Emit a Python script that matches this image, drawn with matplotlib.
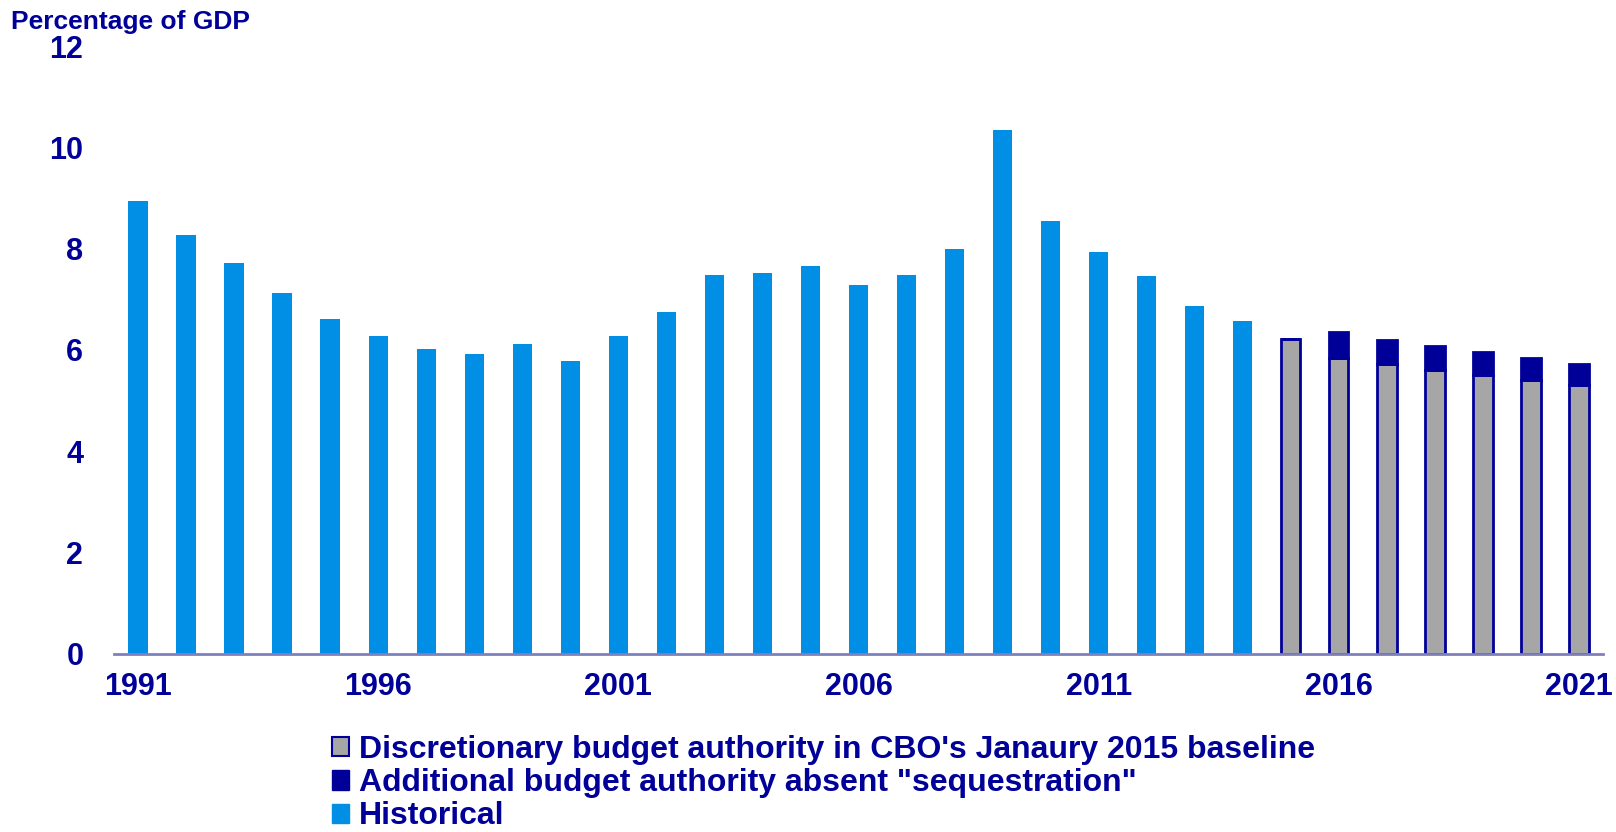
#!/usr/bin/env python3
"""Discretionary budget authority as % of GDP, 1991-2021 (historical + CBO baseline)."""
import numpy as np
import matplotlib
matplotlib.use("Agg")
import matplotlib.pyplot as plt
from matplotlib.patches import Patch

NAVY = "#000099"
SKY = "#008FE5"
GRAY = "#A6A6A6"
AXIS = "#8080C0"

years = list(range(1991, 2022))
historical = [8.94, 8.26, 7.71, 7.12, 6.61, 6.28, 6.01, 5.91, 6.11, 5.77,
              6.28, 6.75, 7.48, 7.51, 7.65, 7.28, 7.48, 8.00, 10.35, 8.55,
              7.93, 7.46, 6.87, 6.56]
baseline_years = list(range(2015, 2022))
baseline = [6.22, 5.84, 5.71, 5.60, 5.50, 5.41, 5.31]
no_sequester = [0.00, 0.51, 0.48, 0.47, 0.46, 0.43, 0.41]
tick_years = [1991, 1996, 2001, 2006, 2011, 2016, 2021]

plt.rcParams["font.family"] = ["Liberation Sans", "DejaVu Sans"]
plt.rcParams["font.weight"] = "bold"


def main():
    fig = plt.figure(figsize=(16.16, 8.32), dpi=100)
    ax = fig.add_axes([0.0705, 0.2145, 0.9215, 0.7302])

    x = np.arange(len(years))
    hx = x[:len(historical)]
    bx = x[len(historical):]
    w = 0.4

    ax.bar(hx, historical, width=w, color=SKY, linewidth=0)
    ax.bar(bx, baseline, width=w, color=GRAY, edgecolor=NAVY, linewidth=2)
    ax.bar(bx, no_sequester, width=w, bottom=baseline, color=NAVY,
           edgecolor=NAVY, linewidth=2)

    ax.set_xlim(-0.5, len(years) - 0.5)
    ax.set_ylim(0, 12)
    ax.set_yticks(range(0, 13, 2))
    ax.set_xticks([years.index(y) for y in tick_years])
    ax.set_xticklabels([str(y) for y in tick_years])
    ax.tick_params(axis="both", length=0, labelsize=22, labelcolor=NAVY)
    ax.tick_params(axis="x", pad=13)
    ax.tick_params(axis="y", pad=22)

    for s in ["top", "right", "left"]:
        ax.spines[s].set_visible(False)
    ax.spines["bottom"].set_color(AXIS)
    ax.spines["bottom"].set_linewidth(2)

    fig.text(0.007, 0.973, "Percentage of GDP", color=NAVY, fontsize=19,
             fontweight="bold", va="center", ha="left")

    handles = [
        Patch(facecolor=GRAY, edgecolor=NAVY, linewidth=1.5),
        Patch(facecolor=NAVY, edgecolor=NAVY),
        Patch(facecolor=SKY, edgecolor=SKY),
    ]
    labels = [
        "Discretionary budget authority in CBO's Janaury 2015 baseline",
        "Additional budget authority absent \"sequestration\"",
        "Historical",
    ]
    leg = fig.legend(handles, labels, loc="upper left",
                     bbox_to_anchor=(0.2054, 0.1165), frameon=False,
                     fontsize=23, handlelength=0.55, handleheight=0.55,
                     handletextpad=0.3, labelspacing=0.1, borderpad=0,
                     borderaxespad=0)
    for t in leg.get_texts():
        t.set_color(NAVY)
        t.set_fontweight("bold")

    fig.savefig("out.png", dpi=100)


if __name__ == "__main__":
    main()
